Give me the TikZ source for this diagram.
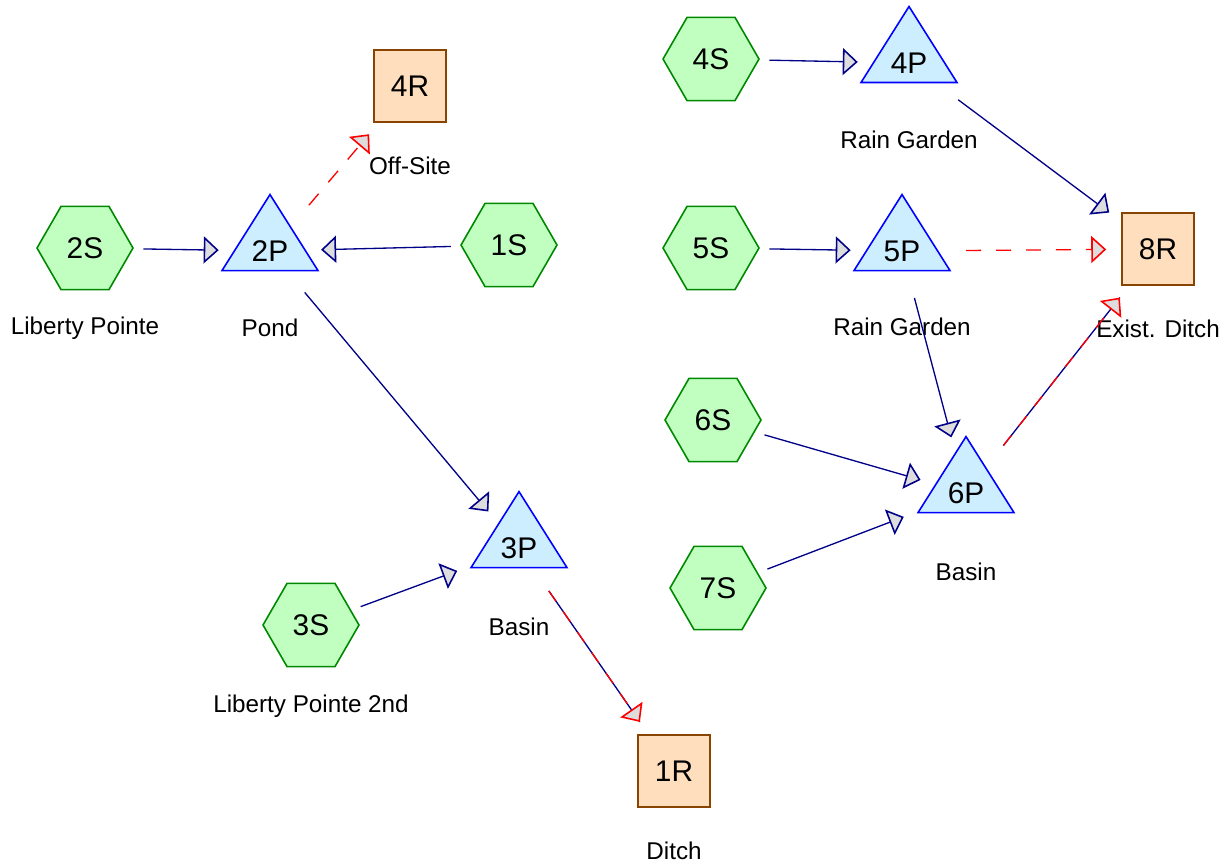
\documentclass[tikz,border=0pt]{standalone}
\usepackage{fontspec}
\setmainfont{Liberation Sans}
\usetikzlibrary{shapes.geometric,arrows.meta,positioning}

\definecolor{catfill}{HTML}{C0FFC0}
\definecolor{catline}{HTML}{008800}
\definecolor{pondfill}{HTML}{CCEEFF}
\definecolor{pondline}{HTML}{0000FF}
\definecolor{reachfill}{HTML}{FFDEBE}
\definecolor{reachline}{HTML}{884400}
\definecolor{flowline}{HTML}{000088}
\definecolor{tipfill}{HTML}{DDDDDD}

\begin{document}
\begin{tikzpicture}[
    x=0.02cm, y=-0.02cm,
    subcat/.style={regular polygon, regular polygon sides=6, draw=catline, fill=catfill, line width=0.9pt, minimum size=1.92cm, inner sep=0pt, font=\fontsize{17}{20}\selectfont},
    pond/.style={isosceles triangle, isosceles triangle stretches, shape border rotate=90, draw=pondline, fill=pondfill, line width=0.9pt, minimum width=1.92cm, minimum height=1.52cm, inner sep=0pt, font=\fontsize{17}{20}\selectfont},
    reach/.style={rectangle, draw=reachline, fill=reachfill, line width=0.9pt, minimum size=1.44cm, font=\fontsize{17}{20}\selectfont},
    caption/.style={font=\fontsize{13.8}{16}\selectfont},
    arrow/.style={-{Triangle[length=0.3cm, width=0.54cm, fill=tipfill, line width=0.9pt]}, flowline, line width=0.75pt, shorten <=0.2cm, shorten >=0.3cm},
    from pond/.style={shorten <=0.55cm},
    spill/.style={arrow, red, dash pattern=on 0.3cm off 0.3cm},
    mixed/.style={arrow, red, dash pattern=on 0.25cm off 0.25cm}
]
\useasboundingbox (0,0) rectangle (1229,866);

% Subcatchments
\node[subcat] (2S) at (85,248) {2S};
\node[subcat] (1S) at (509,245) {1S};
\node[subcat] (3S) at (311,625) {3S};
\node[subcat] (4S) at (711,59) {4S};
\node[subcat] (5S) at (711,248) {5S};
\node[subcat] (6S) at (713,420) {6S};
\node[subcat] (7S) at (718,588) {7S};

% Ponds
\node[pond] (2P) at (270,251) {2P};
\node[pond] (3P) at (519,548) {3P};
\node[pond] (4P) at (909,63) {4P};
\node[pond] (5P) at (902,251) {5P};
\node[pond] (6P) at (966,493) {6P};

% Reaches
\node[reach] (4R) at (410,86) {4R};
\node[reach] (8R) at (1158,249) {8R};
\node[reach] (1R) at (674,771) {1R};

% Captions
\node[caption] (cap2S) at (85,328) {Liberty Pointe};
\node[caption] (cap2P) at (270,328) {Pond};
\node[caption] (cap4R) at (410,166) {Off-Site};
\node[caption] (cap4P) at (909,140) {Rain Garden};
\node[caption] (cap5P) at (902,327) {Rain Garden};
\node[caption] (cap8R) at (1158,329) {Exist. Ditch};
\node[caption] (cap3P) at (519,627) {Basin};
\node[caption] (cap3S) at (311,706) {Liberty Pointe 2nd};
\node[caption] (cap6P) at (966,572) {Basin};
\node[caption] (cap1R) at (674,851) {Ditch};

% Primary flow
\draw[arrow] (2S) -- (2P);
\draw[arrow] (1S) -- (2P);
\draw[arrow, from pond] (2P) -- (3P);
\draw[arrow] (3S) -- (3P);
\draw[arrow] (4S) -- (4P);
\draw[arrow, from pond] (4P) -- (8R);
\draw[arrow] (5S) -- (5P);
\draw[arrow, from pond] (5P) -- (6P);
\draw[arrow] (6S) -- (6P);
\draw[arrow] (7S) -- (6P);

% Secondary flow (dashed)
\draw[spill, from pond] (2P) -- (4R);
\draw[spill, from pond] (5P) -- (8R);

% Combined flow
\draw[arrow, from pond, -] (3P) -- (1R);
\draw[mixed, from pond] (3P) -- (1R);
\draw[arrow, from pond, -] (6P) -- (8R);
\draw[mixed, from pond] (6P) -- (8R);

\end{tikzpicture}
\end{document}
